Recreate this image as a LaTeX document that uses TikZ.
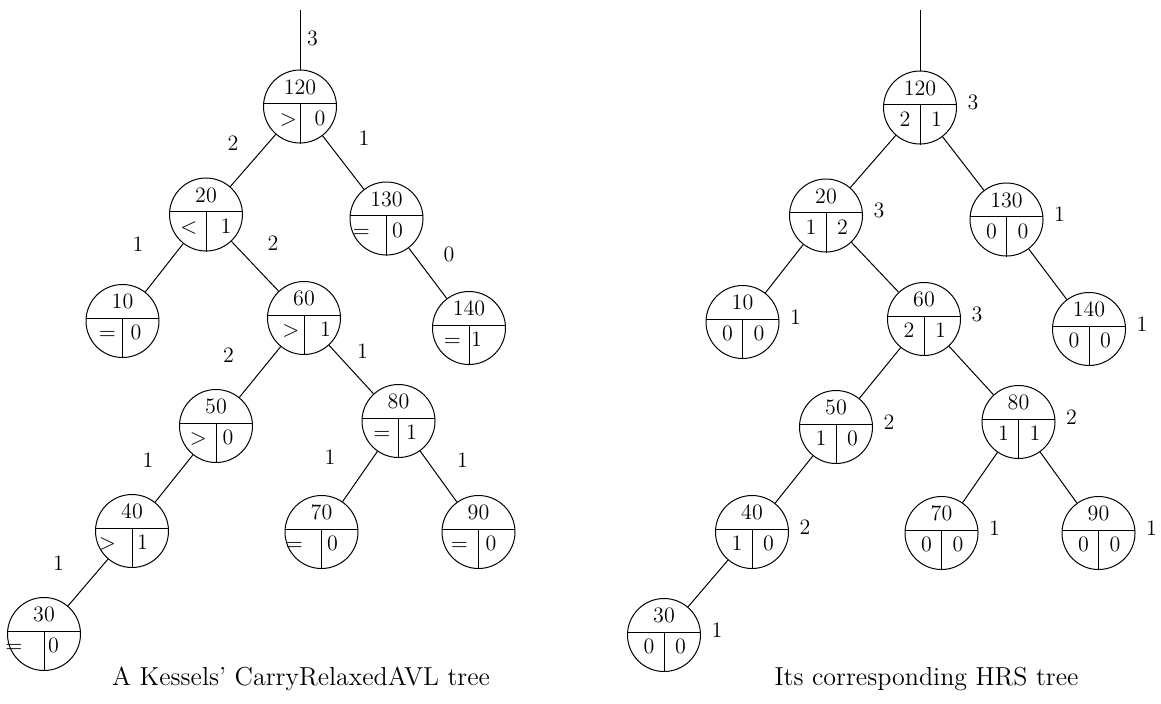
\documentclass[tikz,border=0pt]{standalone}
\usetikzlibrary{calc,positioning}
\newcommand{\treenode}[7]{%
  \node[treecirc] (#1) at (#2) {};
  \draw ($(#1)+(-36.4,-3)$) -- ($(#1)+(36.4,-3)$);
  \draw ($(#1)+(0,-3)$) -- (#1.south);
  \node[keytext] (#1key) at ($(#1)+(0,-18.5)$) {#3};
  \node[celltext] (#1lft) at ($(#1)+(#6,12.5)$) {#4};
  \node[celltext] (#1rgt) at ($(#1)+(#7,12.5)$) {#5};%
}

\begin{document}
\begin{tikzpicture}[
  x=0.5pt,
  y=-0.5pt,
  line width=0.5pt,
  every node/.style={font=\fontsize{11}{13}\selectfont, inner sep=2pt},
  treecirc/.style={circle, draw, minimum size=36.5pt, inner sep=0pt},
  keytext/.style={text height=1.5ex, text depth=0pt},
  celltext/.style={text height=1.5ex, text depth=0pt},
  hlabel/.style={text height=1.5ex, text depth=0pt},
  rank/.style={text height=1.5ex, text depth=0pt, inner sep=1pt},
  caption/.style={font=\fontsize{13}{16}\selectfont, anchor=base}
]
  \useasboundingbox (0,0) rectangle (1161,703);

  % Kessels' tree: key, balance symbol, carry.
  \treenode{k120}{300,106.5}{120}{$>$}{0}{-11.5}{20}
  \treenode{k20}{206,214.5}{20}{$<$}{1}{-17}{20}
  \treenode{k130}{386.5,218.5}{130}{$=$}{0}{-25}{11}
  \treenode{k10}{122.5,321}{10}{$=$}{0}{-15}{13.5}
  \treenode{k60}{304,318}{60}{$>$}{1}{-13}{21.5}
  \treenode{k140}{469,328}{140}{$=$}{1}{-16.5}{7.5}
  \treenode{k50}{216,426}{50}{$>$}{0}{-17.5}{12}
  \treenode{k80}{398.5,421}{80}{$=$}{1}{-16.5}{13}
  \treenode{k40}{132,531}{40}{$>$}{1}{-24.5}{10.5}
  \treenode{k70}{321.5,532}{70}{$=$}{0}{-27}{11}
  \treenode{k90}{478.5,532}{90}{$=$}{0}{-19}{12.5}
  \treenode{k30}{44,634}{30}{$=$}{0}{-30}{9.5}

  \coordinate (ktop) at (300,10);
  \draw (ktop) -- (k120);
  \draw (k120) -- (k20);
  \draw (k120) -- (k130);
  \draw (k20) -- (k10);
  \draw (k20) -- (k60);
  \draw (k130) -- (k140);
  \draw (k60) -- (k50);
  \draw (k60) -- (k80);
  \draw (k50) -- (k40);
  \draw (k80) -- (k70);
  \draw (k80) -- (k90);
  \draw (k40) -- (k30);

  \node[hlabel] (ktoph) at (312.5,39.5) {3};
  \node[hlabel] (k20h) at (233,144.5) {2};
  \node[hlabel] (k130h) at (364,139.5) {1};
  \node[hlabel] (k10h) at (138,245) {1};
  \node[hlabel] (k60h) at (273,244) {2};
  \node[hlabel] (k140h) at (449,255) {0};
  \node[hlabel] (k50h) at (228.5,356) {2};
  \node[hlabel] (k80h) at (362.5,352) {1};
  \node[hlabel] (k40h) at (148,461) {1};
  \node[hlabel] (k70h) at (330,458) {1};
  \node[hlabel] (k90h) at (462.5,461) {1};
  \node[hlabel] (k30h) at (58.5,564) {1};

  % HRS tree: key, left and right counts, rank.
  \treenode{h120}{920,107.5}{120}{2}{1}{-15}{16.5}
  \treenode{h20}{826,215.5}{20}{1}{2}{-15}{16.5}
  \treenode{h130}{1006.5,219.5}{130}{0}{0}{-15}{16.5}
  \treenode{h10}{742.5,322}{10}{0}{0}{-15}{16.5}
  \treenode{h60}{924,319}{60}{2}{1}{-15}{16.5}
  \treenode{h140}{1089,329}{140}{0}{0}{-15}{16.5}
  \treenode{h50}{836,427}{50}{1}{0}{-15}{16.5}
  \treenode{h80}{1018.5,422}{80}{1}{1}{-15}{16.5}
  \treenode{h40}{752,532}{40}{1}{0}{-15}{16.5}
  \treenode{h70}{941.5,533}{70}{0}{0}{-15}{16.5}
  \treenode{h90}{1098.5,533}{90}{0}{0}{-15}{16.5}
  \treenode{h30}{664,635}{30}{0}{0}{-15}{16.5}

  \coordinate (htop) at (920,10);
  \draw (htop) -- (h120);
  \draw (h120) -- (h20);
  \draw (h120) -- (h130);
  \draw (h20) -- (h10);
  \draw (h20) -- (h60);
  \draw (h130) -- (h140);
  \draw (h60) -- (h50);
  \draw (h60) -- (h80);
  \draw (h50) -- (h40);
  \draw (h80) -- (h70);
  \draw (h80) -- (h90);
  \draw (h40) -- (h30);

  \node[rank, right=4pt of h120, yshift=2pt] (h120r) {3};
  \node[rank, right=4pt of h20, yshift=2pt] (h20r) {3};
  \node[rank, right=4pt of h130, yshift=2pt] (h130r) {1};
  \node[rank, right=4pt of h10, yshift=2pt] (h10r) {1};
  \node[rank, right=4pt of h60, yshift=2pt] (h60r) {3};
  \node[rank, right=4pt of h140, yshift=2pt] (h140r) {1};
  \node[rank, right=4pt of h50, yshift=2pt] (h50r) {2};
  \node[rank, right=4pt of h80, yshift=2pt] (h80r) {2};
  \node[rank, right=4pt of h40, yshift=2pt] (h40r) {2};
  \node[rank, right=4pt of h70, yshift=2pt] (h70r) {1};
  \node[rank, right=4pt of h90, yshift=2pt] (h90r) {1};
  \node[rank, right=4pt of h30, yshift=2pt] (h30r) {1};

  % Captions.
  \node[caption] (kcap) at (301,685) {A Kessels' CarryRelaxedAVL tree};
  \node[caption] (hcap) at (926.5,685) {Its corresponding HRS tree};
\end{tikzpicture}
\end{document}
